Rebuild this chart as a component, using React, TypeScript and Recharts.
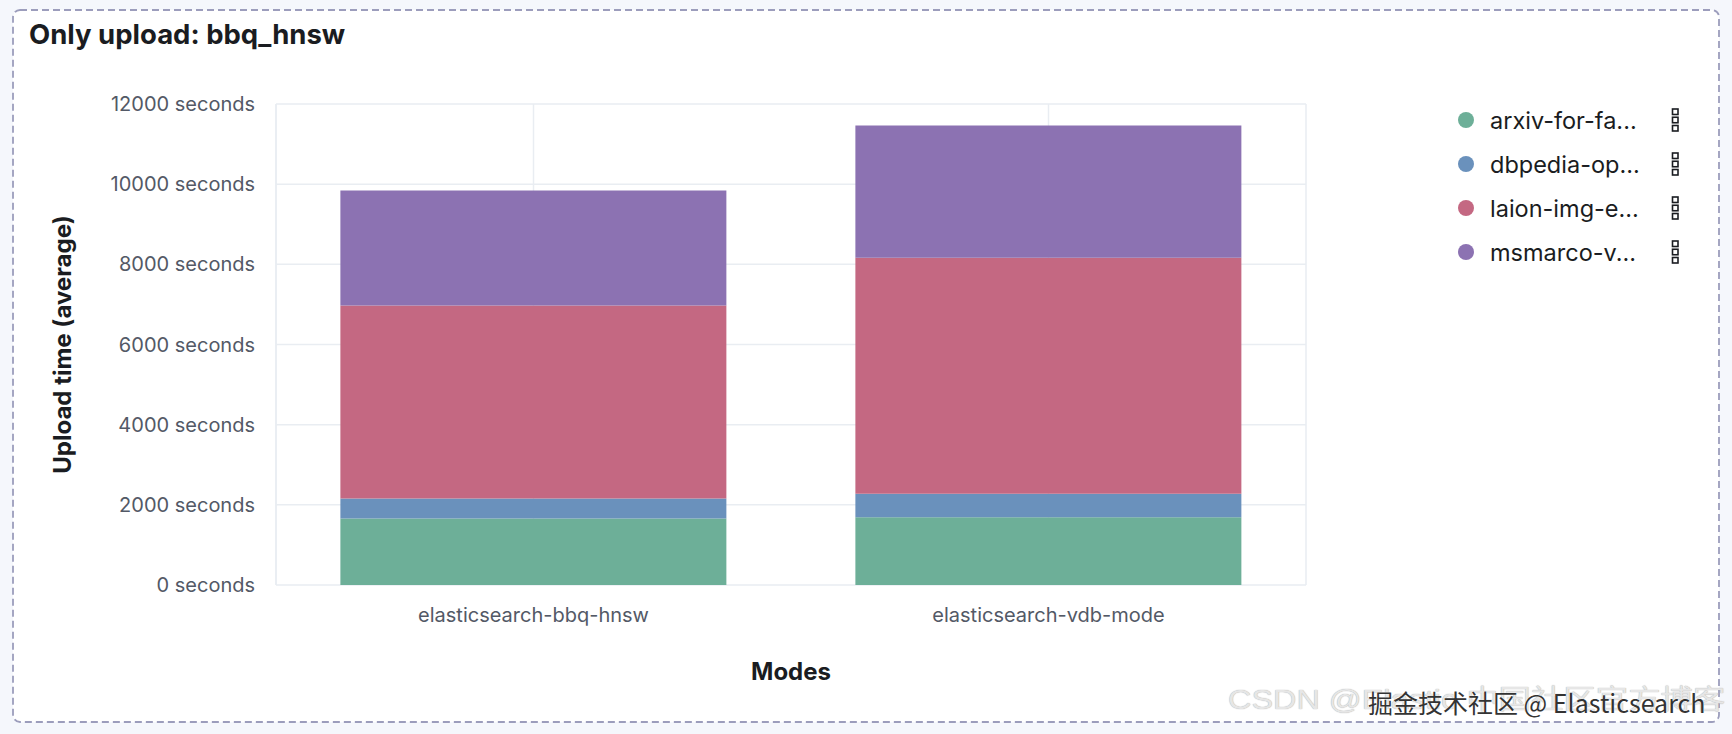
import React from 'react';
import { BarChart, Bar, XAxis, YAxis, CartesianGrid, Legend } from 'recharts';

const modes = ['elasticsearch-bbq-hnsw', 'elasticsearch-vdb-mode'];
const seriesKeys = ['arxiv', 'dbpedia', 'laion', 'msmarco'];
const seriesNames = ['arxiv-for-fa...', 'dbpedia-op...', 'laion-img-e...', 'msmarco-v...'];
const seriesColors = ['#6DAF98', '#6A91BC', '#C46882', '#8C72B2'];
const arxivValues = [1660, 1690];
const dbpediaValues = [500, 585];
const laionValues = [4810, 5890];
const msmarcoValues = [2870, 3300];
const yTicks = [0, 2000, 4000, 6000, 8000, 10000, 12000];

const data = modes.map((mode, i) => ({
  mode,
  arxiv: arxivValues[i],
  dbpedia: dbpediaValues[i],
  laion: laionValues[i],
  msmarco: msmarcoValues[i],
}));

const FONT = 'Inter, "Noto Sans", sans-serif';

const MenuIcon = () => (
  <svg width={12} height={26} style={{ display: 'block' }}>
    <rect x={2.5} y={2} width={5.5} height={5.5} fill="none" stroke="#1a1c21" strokeWidth={1.6} />
    <rect x={2.5} y={10.25} width={5.5} height={5.5} fill="none" stroke="#1a1c21" strokeWidth={1.6} />
    <rect x={2.5} y={18.5} width={5.5} height={5.5} fill="none" stroke="#1a1c21" strokeWidth={1.6} />
  </svg>
);

const LegendContent = () => (
  <div style={{ fontFamily: FONT }}>
    {seriesNames.map((name, i) => (
      <div key={name} style={{ display: 'flex', alignItems: 'center', height: 44 }}>
        <div style={{ width: 16, height: 16, borderRadius: 8, background: seriesColors[i] }} />
        <div style={{ marginLeft: 16, width: 180, fontSize: 23.5, color: '#1a1c21', whiteSpace: 'nowrap' }}>{name}</div>
        <MenuIcon />
      </div>
    ))}
  </div>
);

const YLabel = (props: any) => {
  const vb = props.viewBox || { x: 0, y: 104, width: 276, height: 481 };
  const cy = vb.y + vb.height / 2;
  return (
    <text
      x={62}
      y={cy}
      transform={`rotate(-90 62 ${cy})`}
      textAnchor="middle"
      dominantBaseline="central"
      fontFamily={FONT}
      fontWeight={700}
      fontSize={24}
      fill="#1a1c21"
    >
      Upload time (average)
    </text>
  );
};

const XLabel = (props: any) => {
  const vb = props.viewBox || { x: 276, y: 585, width: 1030, height: 149 };
  const cx = vb.x + vb.width / 2;
  return (
    <text x={cx} y={680} textAnchor="middle" fontFamily={FONT} fontWeight={700} fontSize={24} fill="#1a1c21">
      Modes
    </text>
  );
};

export default function App() {
  return (
    <div style={{ position: 'absolute', left: 0, top: 0, width: 1732, height: 734, background: '#f5f7fc', overflow: 'hidden' }}>
      <svg width={1732} height={734} style={{ position: 'absolute', left: 0, top: 0 }}>
        <rect
          x={13}
          y={10}
          width={1706}
          height={712}
          rx={7}
          ry={7}
          fill="#ffffff"
          stroke="#9c9dbc"
          strokeWidth={1.8}
          strokeDasharray="7 4"
        />
      </svg>
      <div
        style={{
          position: 'absolute',
          left: 29,
          top: 21,
          fontFamily: FONT,
          fontWeight: 700,
          fontSize: 27.5,
          lineHeight: '27px',
          color: '#1a1c21',
          whiteSpace: 'nowrap',
        }}
      >
        Only upload: bbq_hnsw
      </div>
      <div style={{ position: 'absolute', left: 0, top: 0 }}>
        <BarChart width={1732} height={734} data={data} margin={{ top: 104, right: 426, bottom: 0, left: 0 }} barCategoryGap="12.5%">
          <CartesianGrid stroke="#e9edf2" strokeWidth={1.5} vertical={true} horizontal={true} />
          <XAxis
            dataKey="mode"
            height={149}
            axisLine={false}
            tickLine={false}
            tickSize={0}
            tickMargin={23}
            tick={{ fill: '#535966', fontSize: 20, fontFamily: FONT }}
            label={<XLabel />}
          />
          <YAxis
            width={276}
            domain={[0, 12000]}
            ticks={yTicks}
            interval={0}
            axisLine={{ stroke: '#e9edf2', strokeWidth: 1.5 }}
            tickLine={false}
            tickSize={0}
            tickMargin={21}
            tickFormatter={(v: number) => `${v} seconds`}
            tick={{ fill: '#535966', fontSize: 20, fontFamily: FONT }}
            label={<YLabel />}
          />
          <Legend
            layout="vertical"
            align="center"
            verticalAlign="middle"
            content={<LegendContent />}
            wrapperStyle={{ left: 1458, top: 98, width: 240 }}
          />
          {seriesKeys.map((k, i) => (
            <Bar key={k} dataKey={k} name={seriesNames[i]} stackId="a" fill={seriesColors[i]} isAnimationActive={false} />
          ))}
        </BarChart>
      </div>
      <div
        style={{
          position: 'absolute',
          left: 1228,
          top: 684,
          fontFamily: '"Liberation Sans", "Noto Sans CJK SC", sans-serif',
          fontSize: 27,
          lineHeight: '32px',
          color: '#e6e6e6',
          textShadow: '0 0 1px #9a9a9a',
          whiteSpace: 'nowrap',
          transformOrigin: 'left top',
          transform: 'scaleX(1.2)',
        }}
      >
        CSDN @Elastic 中国社区官方博客
      </div>
      <div
        style={{
          position: 'absolute',
          left: 1368,
          top: 686,
          fontFamily: '"Noto Sans CJK SC", "Liberation Sans", sans-serif',
          fontSize: 25,
          lineHeight: '32px',
          color: '#333333',
          textShadow: '0 0 1px #ffffff, 0 0 1px #ffffff',
          whiteSpace: 'nowrap',
        }}
      >
        掘金技术社区 @ Elasticsearch
      </div>
    </div>
  );
}
